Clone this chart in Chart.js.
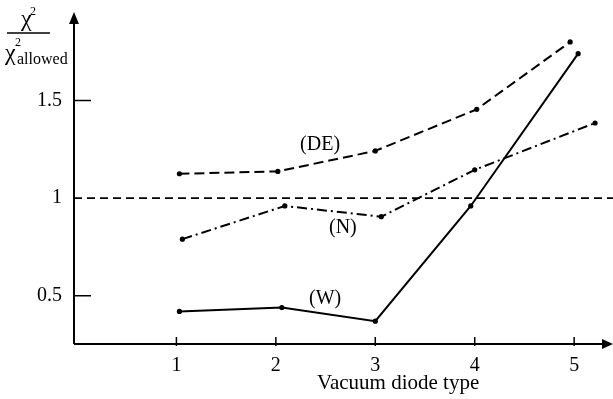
<!DOCTYPE html>
<html>
<head>
<meta charset="utf-8">
<script src="https://cdn.jsdelivr.net/npm/chart.js@4.4.0/dist/chart.umd.min.js"></script>
<style>
  html, body { margin: 0; padding: 0; background: #fff; }
  #wrap { width: 613px; height: 399px; }
</style>
</head>
<body>
<div id="wrap"><canvas id="chiChart" width="613" height="399"></canvas></div>
<script>
// ===== data =====
const diodeTicks = [1, 2, 3, 4, 5];
const ratioTicks = [0.5, 1, 1.5];

const deX = [1.03, 2.02, 3.0, 4.02, 4.96];
const deY = [1.125, 1.137, 1.242, 1.455, 1.8];

const nX = [1.06, 2.09, 3.06, 4.0, 5.21];
const nY = [0.79, 0.96, 0.905, 1.145, 1.385];

const wX = [1.03, 2.06, 3.0, 3.96, 5.04];
const wY = [0.42, 0.44, 0.37, 0.96, 1.74];

const allowedLevel = 1;

// axis ranges
const X_MIN = -0.03, X_MAX = 5.28;
const Y_MIN = 0.253, Y_MAX = 1.892;

const FONT = "'Liberation Serif', 'DejaVu Serif', serif";

const toPoints = (xs, ys) => xs.map((x, i) => ({ x, y: ys[i] }));

// curve labels, placed in data units
const curveLabels = [
  { text: "(DE)", x: 2.445, y: 1.276 },
  { text: "(N)", x: 2.674, y: 0.85 },
  { text: "(W)", x: 2.496, y: 0.484 },
];

const decorPlugin = {
  id: "decor",
  afterDraw(chart) {
    const { ctx, chartArea, scales } = chart;
    const xs = scales.x, ys = scales.y;
    const left = chartArea.left, bottom = chartArea.bottom;
    ctx.save();
    ctx.strokeStyle = "#000";
    ctx.fillStyle = "#000";
    ctx.lineWidth = 2;
    ctx.setLineDash([]);

    // axes
    ctx.beginPath();
    ctx.moveTo(left, bottom);
    ctx.lineTo(left, chartArea.top);
    ctx.moveTo(left, bottom);
    ctx.lineTo(chartArea.right, bottom);
    ctx.stroke();

    // arrow heads
    ctx.beginPath();
    ctx.moveTo(left, chartArea.top - 12);
    ctx.lineTo(left - 5, chartArea.top);
    ctx.lineTo(left + 5, chartArea.top);
    ctx.closePath();
    ctx.fill();
    ctx.beginPath();
    ctx.moveTo(chartArea.right + 11, bottom);
    ctx.lineTo(chartArea.right, bottom - 5);
    ctx.lineTo(chartArea.right, bottom + 5);
    ctx.closePath();
    ctx.fill();

    // tick marks (inward)
    ctx.lineWidth = 1.5;
    ctx.beginPath();
    ratioTicks.forEach((v) => {
      if (v === allowedLevel) return;
      const py = ys.getPixelForValue(v);
      ctx.moveTo(left, py);
      ctx.lineTo(left + 17, py);
    });
    diodeTicks.forEach((v) => {
      const px = xs.getPixelForValue(v);
      ctx.moveTo(px, bottom - 7);
      ctx.lineTo(px, bottom + 2);
    });
    ctx.stroke();

    // curve labels
    ctx.font = "20px " + FONT;
    ctx.textAlign = "center";
    ctx.textBaseline = "middle";
    curveLabels.forEach((l) => {
      ctx.fillText(l.text, xs.getPixelForValue(l.x), ys.getPixelForValue(l.y));
    });

    // x axis title
    ctx.font = "21px " + FONT;
    ctx.textBaseline = "alphabetic";
    ctx.fillText("Vacuum diode type", xs.getPixelForValue(3.23), 389);

    // y axis title: chi^2 / chi^2_allowed
    ctx.textAlign = "left";
    ctx.font = "24px " + FONT;
    ctx.fillText("\u03C7", 21, 26);
    ctx.fillText("\u03C7", 5, 60);
    ctx.font = "12px " + FONT;
    ctx.fillText("2", 30, 15);
    ctx.fillText("2", 15, 46);
    ctx.font = "16px " + FONT;
    ctx.fillText("allowed", 17, 64);
    ctx.lineWidth = 1.5;
    ctx.beginPath();
    ctx.moveTo(7, 33);
    ctx.lineTo(50, 33);
    ctx.stroke();

    ctx.restore();
  },
};

const lineStyle = (dash) => ({
  borderColor: "#000",
  backgroundColor: "#000",
  borderWidth: 2,
  borderDash: dash,
  pointRadius: 2.6,
  pointBorderWidth: 0,
  pointBackgroundColor: "#000",
  tension: 0,
  fill: false,
});

new Chart(document.getElementById("chiChart"), {
  type: "line",
  data: {
    datasets: [
      {
        label: "allowed",
        data: [{ x: X_MIN, y: allowedLevel }, { x: X_MAX + 0.11, y: allowedLevel }],
        ...lineStyle([8, 5]),
        pointRadius: 0,
        borderWidth: 1.6,
        clip: false,
      },
      { label: "(DE)", data: toPoints(deX, deY), ...lineStyle([10, 5]) },
      { label: "(N)", data: toPoints(nX, nY), ...lineStyle([10, 4, 2, 4]) },
      { label: "(W)", data: toPoints(wX, wY), ...lineStyle([]) },
    ],
  },
  options: {
    responsive: false,
    animation: false,
    devicePixelRatio: 1,
    layout: { padding: { left: 0, top: 17, right: 11, bottom: 0 } },
    plugins: { legend: { display: false }, tooltip: { enabled: false } },
    scales: {
      x: {
        type: "linear",
        min: X_MIN,
        max: X_MAX,
        grid: { display: false, drawTicks: false },
        border: { display: false },
        afterBuildTicks: (s) => { s.ticks = diodeTicks.map((v) => ({ value: v })); },
        afterFit: (s) => { s.height = 55; },
        ticks: {
          color: "#000",
          padding: 10,
          font: { family: FONT, size: 20 },
          callback: (v) => String(v),
        },
      },
      y: {
        type: "linear",
        min: Y_MIN,
        max: Y_MAX,
        grid: { display: false, drawTicks: false },
        border: { display: false },
        afterBuildTicks: (s) => { s.ticks = ratioTicks.map((v) => ({ value: v })); },
        afterFit: (s) => { s.width = 74; },
        ticks: {
          color: "#000",
          padding: 12,
          font: { family: FONT, size: 20 },
          callback: (v) => String(v),
        },
      },
    },
  },
  plugins: [decorPlugin],
});
</script>
</body>
</html>
